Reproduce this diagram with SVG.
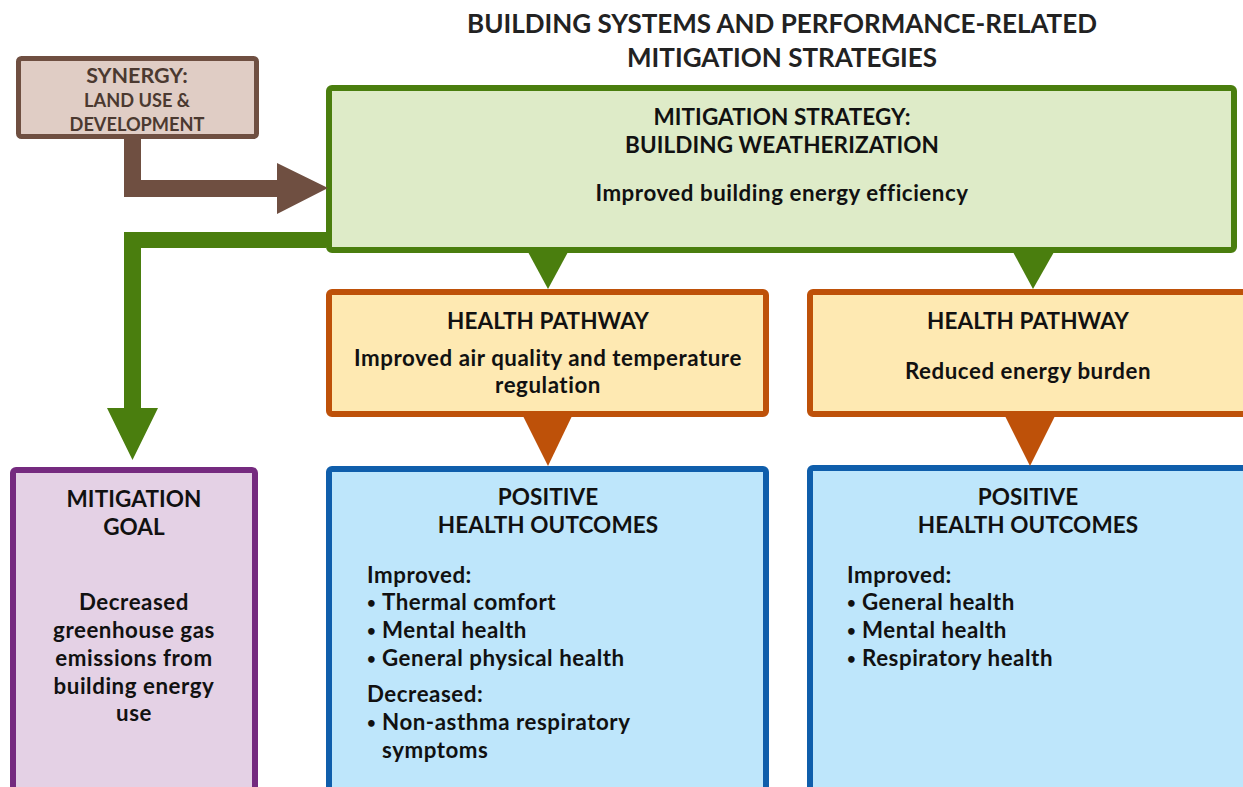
<svg xmlns="http://www.w3.org/2000/svg" width="1243" height="787" viewBox="0 0 1243 787">
<style>
text{font-family:Lato,"Open Sans","Liberation Sans",sans-serif;font-weight:bold;fill:#111;}
.c{text-anchor:middle;}
.t{font-size:26px;fill:#222;}
.h{font-size:22.5px;letter-spacing:0.1px;}
.b{font-size:22.3px;letter-spacing:0.55px;}
.d{font-size:15px;}
.syn{fill:#4B3930;}
.box{stroke-width:6;}
</style>
<rect width="1243" height="787" fill="#fff"/>
<g id="title">
<text class="t c" x="782" y="33">BUILDING SYSTEMS AND PERFORMANCE-RELATED</text>
<text class="t c" x="782" y="67">MITIGATION STRATEGIES</text>
</g>
<g id="synergy">
<rect x="18.5" y="58.5" width="238" height="78" rx="3" fill="#E0CDC5" stroke="#6F4F41" stroke-width="5"/>
<text class="c syn" x="137" y="83" font-size="21.5">SYNERGY:</text>
<text class="c syn" x="137" y="107" font-size="18.2">LAND USE &amp;</text>
<text class="c syn" x="137" y="131" font-size="18.2">DEVELOPMENT</text>
</g>
<g id="strategy">
<rect class="box" x="329" y="88" width="905" height="162" rx="3" fill="#DEEBC8" stroke="#4A7E0E"/>
<text class="h c" x="782" y="125">MITIGATION STRATEGY:</text>
<text class="h c" x="782" y="153">BUILDING WEATHERIZATION</text>
<text class="b c" x="782" y="201">Improved building energy efficiency</text>
</g>
<g id="pathway1">
<rect class="box" x="329" y="292" width="437" height="122" rx="3" fill="#FEE9B2" stroke="#BE5109"/>
<text class="h c" x="548" y="329">HEALTH PATHWAY</text>
<text class="b c" x="548" y="366">Improved air quality and temperature</text>
<text class="b c" x="548" y="393">regulation</text>
</g>
<g id="pathway2">
<rect class="box" x="810" y="292" width="450" height="122" rx="3" fill="#FEE9B2" stroke="#BE5109"/>
<text class="h c" x="1028" y="329">HEALTH PATHWAY</text>
<text class="b c" x="1028" y="379">Reduced energy burden</text>
</g>
<g id="goal">
<rect class="box" x="13" y="470" width="242" height="340" rx="3" fill="#E4D1E5" stroke="#752A7F"/>
<text class="h c" x="134" y="507">MITIGATION</text>
<text class="h c" x="134" y="535">GOAL</text>
<text class="b c" x="134" y="610">Decreased</text>
<text class="b c" x="134" y="638">greenhouse gas</text>
<text class="b c" x="134" y="666">emissions from</text>
<text class="b c" x="134" y="694">building energy</text>
<text class="b c" x="134" y="721">use</text>
</g>
<g id="outcomes1">
<rect class="box" x="329" y="469" width="437" height="340" rx="3" fill="#BEE6FB" stroke="#0F5EAB"/>
<text class="h c" x="548" y="505">POSITIVE</text>
<text class="h c" x="548" y="533">HEALTH OUTCOMES</text>
<text class="b" x="367" y="583">Improved:</text>
<text class="d" x="367" y="608">•</text><text class="b" x="382" y="610">Thermal comfort</text>
<text class="d" x="367" y="636">•</text><text class="b" x="382" y="638">Mental health</text>
<text class="d" x="367" y="664">•</text><text class="b" x="382" y="666">General physical health</text>
<text class="b" x="367" y="702">Decreased:</text>
<text class="d" x="367" y="728">•</text><text class="b" x="382" y="730">Non-asthma respiratory</text>
<text class="b" x="382" y="758">symptoms</text>
</g>
<g id="outcomes2">
<rect class="box" x="810" y="468" width="450" height="340" rx="3" fill="#BEE6FB" stroke="#0F5EAB"/>
<text class="h c" x="1028" y="505">POSITIVE</text>
<text class="h c" x="1028" y="533">HEALTH OUTCOMES</text>
<text class="b" x="847" y="583">Improved:</text>
<text class="d" x="847" y="608">•</text><text class="b" x="862" y="610">General health</text>
<text class="d" x="847" y="636">•</text><text class="b" x="862" y="638">Mental health</text>
<text class="d" x="847" y="664">•</text><text class="b" x="862" y="666">Respiratory health</text>
</g>
<g id="connectors">
<polygon fill="#6F4F41" points="124,139 141,139 141,180 277,180 277,163 328,188 277,214 277,197 124,197"/>
<polygon fill="#4A7E0E" points="326,232 326,248 141,248 141,408 158,408 132.5,460 107,408 124,408 124,232"/>
<polygon fill="#4A7E0E" points="528,252 568,252 548,289"/>
<polygon fill="#4A7E0E" points="1013,252 1054,252 1033,289"/>
<polygon fill="#BE5109" points="523,416 572,416 548,466"/>
<polygon fill="#BE5109" points="1005,416 1055,416 1030,466"/>
</g>
</svg>
